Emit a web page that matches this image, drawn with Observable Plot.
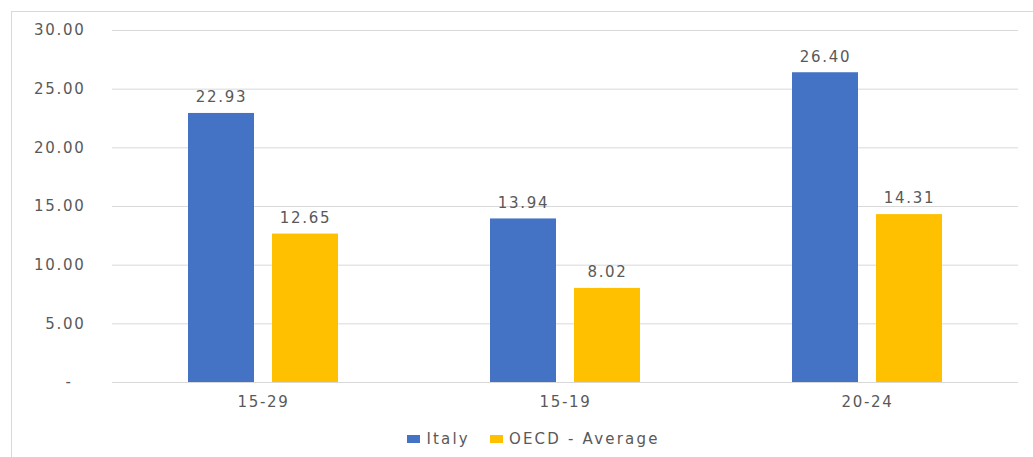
<!DOCTYPE html>
<html>
<head>
<meta charset="utf-8">
<script src="https://cdn.jsdelivr.net/npm/d3@7"></script>
<script src="https://cdn.jsdelivr.net/npm/@observablehq/plot@0.6"></script>
<style>
  html, body { margin: 0; padding: 0; background: #fff; }
  #wrap { position: relative; width: 1033px; height: 457px; overflow: hidden; font-family: "DejaVu Sans", sans-serif; }
  #frame { position: absolute; left: 11px; top: 11px; right: -5px; bottom: -5px; border-top: 1px solid #d9d9d9; border-left: 1px solid #d9d9d9; pointer-events: none; }
  #chart { position: absolute; left: 0; top: 0; }
  #legend { position: absolute; left: 17px; top: 428px; width: 1033px; height: 22px; display: flex; align-items: center; justify-content: center; font-size: 15px; letter-spacing: 2.2px; color: #595959; gap: 0; }
  .item { display: flex; align-items: center; }
  .sw { width: 13px; height: 8px; margin-right: 6px; }
  .gap { width: 20px; }
</style>
</head>
<body>
<div id="wrap">
  <div id="chart"></div>
  <div id="frame"></div>
  <div id="legend"></div>
</div>
<script>
const groups = ["15-29", "15-19", "20-24"];
const series = ["Italy", "OECD - Average"];
const italy = [22.93, 13.94, 26.40];
const oecd = [12.65, 8.02, 14.31];
const colors = ["#4472C4", "#FFC000"];
const yTicks = [0, 5, 10, 15, 20, 25, 30];

const data = groups.flatMap((g, i) => [
  {group: g, series: series[0], value: italy[i]},
  {group: g, series: series[1], value: oecd[i]}
]);

const textStyle = {fill: "#595959", fontSize: 15, fontFamily: "DejaVu Sans, sans-serif"};

const plot = Plot.plot({
  width: 1033,
  height: 420,
  marginLeft: 112,
  marginRight: 15,
  marginTop: 30,
  marginBottom: 38,
  style: {fontFamily: "DejaVu Sans, sans-serif", fontSize: "15px", color: "#595959", letterSpacing: "1.7px", background: "transparent"},
  fx: {domain: groups, padding: 0, label: null},
  x: {domain: series, paddingInner: 0.218, paddingOuter: 0.894, axis: null},
  y: {domain: [0, 30], label: null},
  color: {domain: series, range: colors},
  marks: [
    Plot.ruleY(yTicks, {stroke: "#d9d9d9", strokeWidth: 1}),
    Plot.barY(data, {fx: "group", x: "series", y: "value", fill: "series"}),
    Plot.text(data, {fx: "group", x: "series", y: "value", text: d => d.value.toFixed(2), dy: -16, ...textStyle}),
    Plot.axisY({ticks: yTicks, tickSize: 0, tickPadding: 27, label: null,
      tickFormat: d => d === 0 ? "-\u00a0\u00a0" : d.toFixed(2), fill: "#595959"}),
    Plot.axisFx({anchor: "bottom", tickSize: 0, tickPadding: 14, label: null, fill: "#595959"})
  ]
});
document.getElementById("chart").appendChild(plot);

const legend = document.getElementById("legend");
series.forEach((s, i) => {
  if (i > 0) { const g = document.createElement("div"); g.className = "gap"; legend.appendChild(g); }
  const item = document.createElement("div");
  item.className = "item";
  const sw = document.createElement("div");
  sw.className = "sw";
  sw.style.background = colors[i];
  const t = document.createElement("span");
  t.textContent = s;
  item.appendChild(sw);
  item.appendChild(t);
  legend.appendChild(item);
});
</script>
</body>
</html>
